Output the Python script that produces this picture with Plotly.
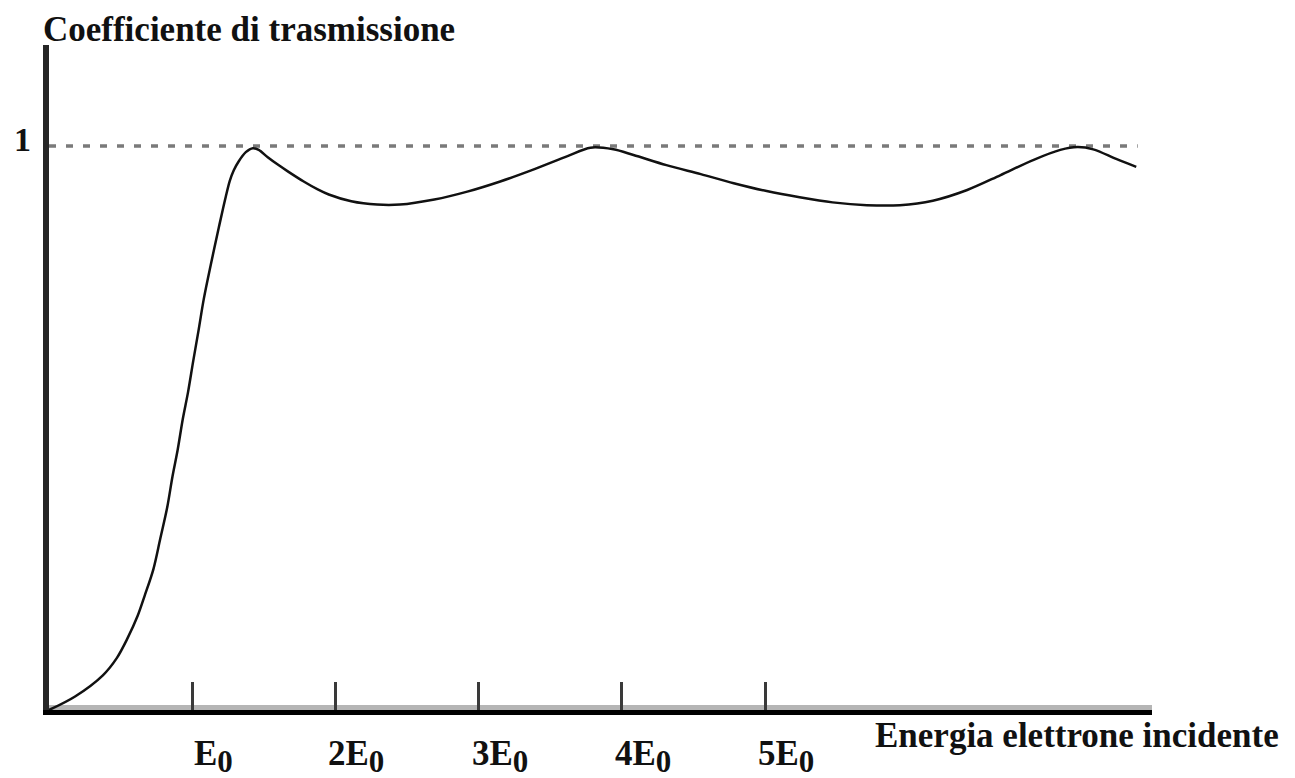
import plotly.graph_objects as go

# Data (x in units of E0, y = transmission coefficient)
energy = [0, 0.182, 0.376, 0.473, 0.546, 0.619, 0.667, 0.728, 0.777, 0.825, 0.862,
          0.898, 0.934, 0.971, 1.007, 1.044, 1.080, 1.129, 1.185, 1.213, 1.234, 1.262,
          1.290, 1.325, 1.374, 1.423, 1.464, 1.527, 1.597, 1.667, 1.778, 1.876, 1.953,
          2.11, 2.29, 2.45, 2.69, 2.92,
          3.15, 3.38, 3.62, 3.78, 3.94, 4.08, 4.31, 4.55, 4.78, 5.01, 5.24, 5.47, 5.71,
          5.94, 6.17, 6.41, 6.64, 6.87, 7.06, 7.18, 7.29, 7.45, 7.59]
transmission = [0, 0.024, 0.0615, 0.092, 0.126, 0.167, 0.202, 0.249, 0.304, 0.359, 0.414,
                0.461, 0.516, 0.564, 0.619, 0.673, 0.728, 0.789, 0.855, 0.887, 0.910, 0.938,
                0.957, 0.973, 0.989, 0.996, 0.993, 0.980, 0.967, 0.955, 0.937, 0.923, 0.914,
                0.902, 0.896, 0.896, 0.905, 0.919,
                0.937, 0.958, 0.982, 0.997, 0.994, 0.984, 0.966, 0.950, 0.934, 0.920, 0.909, 0.900, 0.895,
                0.895, 0.903, 0.922, 0.948, 0.975, 0.993, 0.998, 0.994, 0.977, 0.963]

ref_x = [0, 7.6]
ref_y = [1, 1]

tick_vals = [1, 2, 3, 4, 5]
tick_prefix = ["", "2", "3", "4", "5"]
y_label_val = 1

FONT = "Liberation Serif"
SUB0 = "<sub><span style='font-size:31px'>0</span></sub>"

fig = go.Figure()
fig.add_trace(go.Scatter(x=ref_x, y=ref_y, mode="lines",
                         line=dict(color="#7a7a7a", width=3.5, dash="7px,10px"),
                         hoverinfo="skip", showlegend=False))
fig.add_trace(go.Scatter(x=energy, y=transmission, mode="lines",
                         line=dict(color="#111111", width=2.5, shape="spline", smoothing=0.9),
                         showlegend=False))

# grey halo under the x-axis line
fig.add_shape(type="line", xref="x", yref="y", x0=0, x1=7.7, y0=0, y1=0,
              line=dict(color="#b5b5b5", width=10), layer="below")

for v, p in zip(tick_vals, tick_prefix):
    fig.add_annotation(x=v, xref="x", y=0, yref="y", yshift=-46, xshift=21,
                       xanchor="center", yanchor="middle", showarrow=False,
                       text="<b>" + p + "E" + SUB0 + "</b>",
                       font=dict(family=FONT, size=35, color="#111"))

fig.add_annotation(x=0, xref="x", y=y_label_val, yref="y", xshift=-27, yshift=6,
                   xanchor="center", yanchor="middle", showarrow=False,
                   text="<b>1</b>", font=dict(family=FONT, size=34, color="#111"))

fig.add_annotation(x=0, xref="paper", y=1, yref="paper", xshift=-8, yshift=16,
                   xanchor="left", yanchor="middle", showarrow=False,
                   text="<b>Coefficiente di trasmissione</b>",
                   font=dict(family=FONT, size=35, color="#111"))
fig.add_annotation(x=1, xref="paper", y=0, yref="paper", xshift=-279, yshift=-25,
                   xanchor="left", yanchor="middle", showarrow=False,
                   text="<b>Energia elettrone incidente</b>",
                   font=dict(family=FONT, size=35, color="#111"))

fig.update_layout(
    width=1287, height=770,
    margin=dict(l=41, r=143, t=37, b=68),
    paper_bgcolor="white", plot_bgcolor="white",
    xaxis=dict(range=[0, 7.7], showgrid=False, zeroline=False, automargin=False,
               showline=True, linecolor="#000000", linewidth=5,
               tickmode="array", tickvals=tick_vals, showticklabels=False,
               ticks="inside", ticklen=28, tickwidth=3, tickcolor="#3a3a3a"),
    yaxis=dict(range=[0, 1.179], showgrid=False, zeroline=False, automargin=False,
               showline=True, linecolor="#262626", linewidth=6,
               showticklabels=False, ticks=""),
)

fig.write_html("out.html")
